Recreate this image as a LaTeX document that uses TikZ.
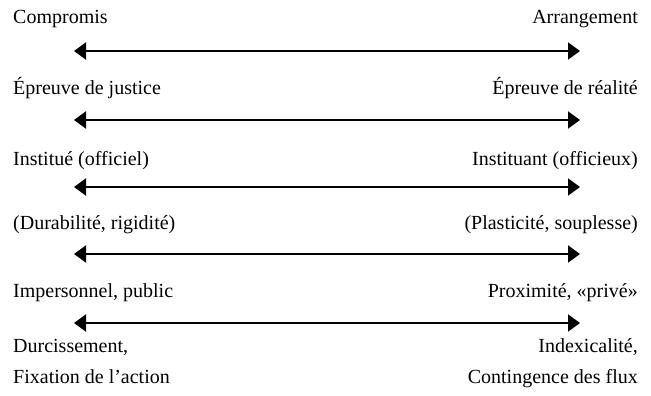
\documentclass[tikz,border=0pt]{standalone}
\usepackage{fontspec}
\setmainfont{Liberation Serif}
\usetikzlibrary{arrows.meta}

\tikzset{
    lefttxt/.style={anchor=base west, inner sep=0pt, font=\fontsize{20}{24}\selectfont},
    righttxt/.style={anchor=base east, inner sep=0pt, font=\fontsize{20}{24}\selectfont},
    biarrow/.style={line width=2pt, {Triangle[length=12pt,width=17pt]}-{Triangle[length=12pt,width=17pt]}}
}

\begin{document}
\begin{tikzpicture}[x=1pt, y=-1pt]
            \useasboundingbox (0, 0) rectangle (651, 396);
            \node[lefttxt] (compromis) at (13, 24) {Compromis};
            \node[righttxt] (arrangement) at (638, 24) {Arrangement};
            \node[lefttxt] (justice) at (13, 95) {Épreuve de justice};
            \node[righttxt] (realite) at (638, 95) {Épreuve de réalité};
            \node[lefttxt] (institue) at (13, 165) {Institué (officiel)};
            \node[righttxt] (instituant) at (638, 165) {Instituant (officieux)};
            \node[lefttxt] (durabilite) at (13, 229) {(Durabilité, rigidité)};
            \node[righttxt] (plasticite) at (638, 229) {(Plasticité, souplesse)};
            \node[lefttxt] (impersonnel) at (13, 297) {Impersonnel, public};
            \node[righttxt] (proximite) at (638, 297) {Proximité, «privé»};
            \node[lefttxt] (durcissement) at (13, 352) {Durcissement,};
            \node[righttxt] (indexicalite) at (638, 352) {Indexicalité,};
            \node[lefttxt] (fixation) at (13, 383) {Fixation de l’action};
            \node[righttxt] (contingence) at (638, 383) {Contingence des flux};
            \coordinate (a1) at (74, 51);
            \coordinate (b1) at (580, 51);
            \coordinate (a2) at (74, 120);
            \coordinate (b2) at (580, 120);
            \coordinate (a3) at (74, 187);
            \coordinate (b3) at (580, 187);
            \coordinate (a4) at (74, 254);
            \coordinate (b4) at (580, 254);
            \coordinate (a5) at (74, 323);
            \coordinate (b5) at (580, 323);
            \draw[biarrow] (a1) -- (b1);
            \draw[biarrow] (a2) -- (b2);
            \draw[biarrow] (a3) -- (b3);
            \draw[biarrow] (a4) -- (b4);
            \draw[biarrow] (a5) -- (b5);
        \end{tikzpicture}
\end{document}
